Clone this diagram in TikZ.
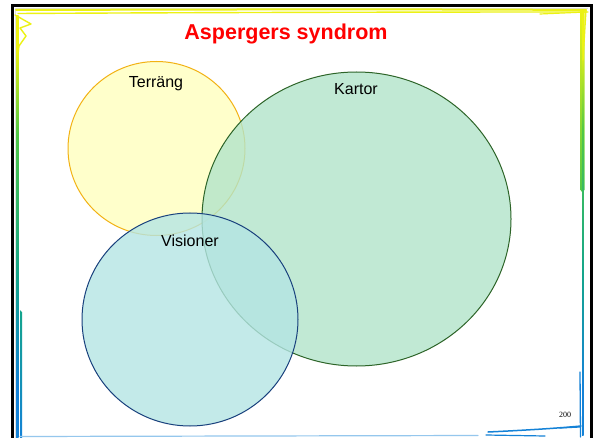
\documentclass[tikz,border=0pt]{standalone}
\usepackage{fontspec}
\setmainfont{Liberation Sans}
\newfontfamily\numfont{Liberation Serif}
\usetikzlibrary{shapes.geometric}

% palette
\definecolor{titlered}{RGB}{255,0,0}
\definecolor{terrfill}{RGB}{255,255,190}
\definecolor{terredge}{RGB}{242,178,20}
\definecolor{kartfill}{RGB}{178,228,202}
\definecolor{kartedge}{RGB}{45,100,40}
\definecolor{visfill}{RGB}{180,229,228}
\definecolor{visedge}{RGB}{25,65,125}
\definecolor{rimyellow}{RGB}{236,242,20}
\definecolor{rimgreen}{RGB}{80,200,70}
\definecolor{rimteal}{RGB}{20,165,140}
\definecolor{rimblue}{RGB}{20,130,215}

% colour run of the side strokes; a path spans 25bp (bottom) to 75bp (top)
\pgfdeclareverticalshading{rimfade}{100bp}{%
  color(0bp)=(rimblue); color(31bp)=(rimblue); color(44bp)=(rimteal);
  color(61bp)=(rimgreen); color(71bp)=(rimyellow); color(100bp)=(rimyellow)}

\tikzset{
  setdisc/.style={ellipse, line width=1pt, fill opacity=0.8, draw opacity=1, inner sep=0pt},
  setlabel/.style={font=\fontsize{16}{18}\selectfont, text=black},
  penline/.style={line width=1.6pt, line cap=round, line join=round},
}

\begin{document}
\begin{tikzpicture}[x=1pt, y=-1pt]
  \useasboundingbox (0,0) rectangle (599,438);
  \clip (0,0) rectangle (599,438);

  % slide background and frame
  \fill[white] (0,0) rectangle (599,438);
  \draw[black!12, line width=1.5pt] (15.5,8.5) -- (15.5,438);
  \draw[black!12, line width=1.5pt] (15.5,8.5) -- (588,8.5);
  \draw[black, line width=3pt] (12.5,5.5) rectangle (591.5,446);

  % hand-drawn rim: top edge
  \draw[penline, rimyellow, line width=2pt] (16,10) .. controls (200,9.5) and (400,9) .. (586,10);
  \draw[penline, rimyellow, line width=1.4pt] (18,13.5) .. controls (200,12.5) and (400,12) .. (588,12);
  \draw[penline, rimyellow, line width=1.2pt] (540,14) -- (586,12);
  % top-left flourish
  \draw[penline, rimyellow, line width=1.4pt]
    (15,15) -- (31,24) -- (20,28) -- (26,36) -- (19,46) -- (17,62);
  % right edge
  \shade[top color=rimyellow, bottom color=rimgreen]
    (580.5,10) -- (584.5,10) -- (584.5,190) -- (582,192) -- (580.5,190) -- cycle;
  \shade[shading=rimfade] (582.2,12) rectangle (583.6,435);
  \draw[penline, rimyellow, line width=1.3pt] (586,10) -- (583,60);
  \draw[penline, rimblue, line width=1.3pt] (580,372) -- (580.5,437);
  \draw[penline, rimblue, line width=1.5pt] (488,432) .. controls (530,430) and (560,428) .. (581,426);
  \draw[penline, rimblue, line width=1.2pt] (560,428) -- (580,427);
  \draw[penline, rimblue, line width=1.2pt] (486,435) -- (545,436);
  % left edge
  \shade[shading=rimfade] (16,16) rectangle (18.5,438);
  \shade[top color=rimteal, bottom color=rimblue] (20,310) -- (22,312) -- (22,438) -- (20,438) -- cycle;
  \draw[penline, rimblue!45, line width=1.2pt] (20,436.5) -- (478,435.5);

  % title
  \node[font=\fontsize{21.5}{24}\selectfont\bfseries, text=titlered] (title) at (286,34) {Aspergers syndrom};

  % three overlapping sets
  \node[setdisc, fill=terrfill, draw=terredge, minimum width=177pt, minimum height=174pt] (terrang) at (156.5,148.5) {};
  \node[setdisc, fill=kartfill, draw=kartedge, minimum width=309pt, minimum height=294pt] (kartor) at (356.5,219) {};
  \node[setdisc, fill=visfill, draw=visedge, minimum width=216pt, minimum height=213pt] (visioner) at (190,319.5) {};

  % set names
  \node[setlabel] (terranglabel) at (156,84) {Terräng};
  \node[setlabel] (kartorlabel) at (356,89) {Kartor};
  \node[setlabel] (visionerlabel) at (190,241) {Visioner};

  % page number
  \node[font=\numfont\fontsize{8}{10}\selectfont] (pagenum) at (565,415) {200};
\end{tikzpicture}
\end{document}
